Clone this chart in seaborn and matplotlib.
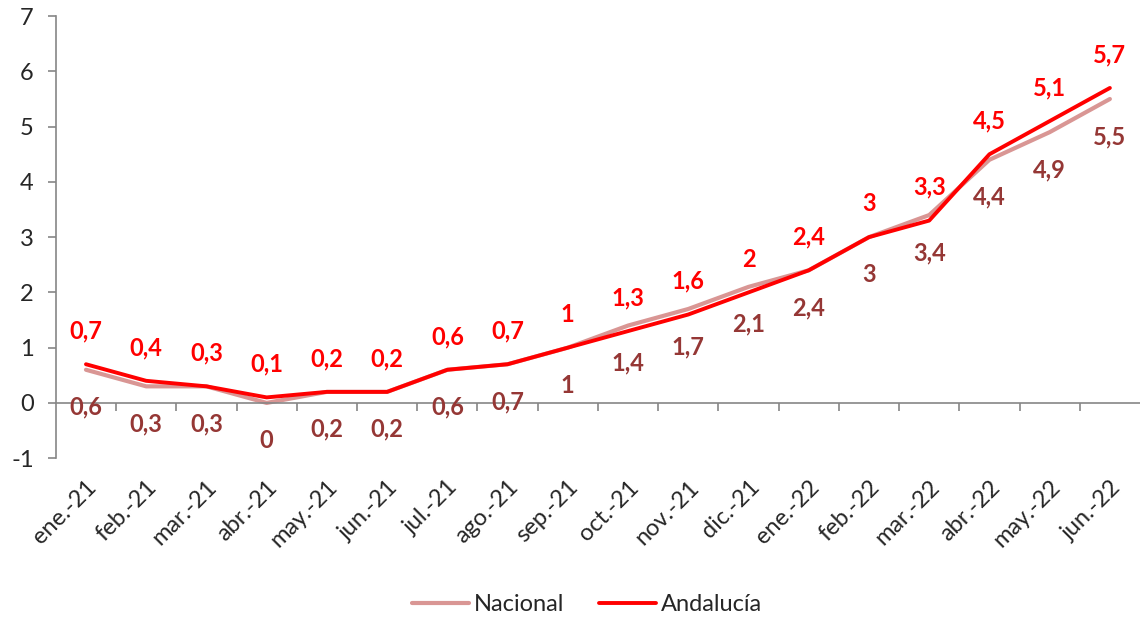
import matplotlib
matplotlib.use("Agg")
import matplotlib.pyplot as plt
import seaborn as sns
import pandas as pd
import numpy as np

months = ["ene.-21", "feb.-21", "mar.-21", "abr.-21", "may.-21", "jun.-21",
          "jul.-21", "ago.-21", "sep.-21", "oct.-21", "nov.-21", "dic.-21",
          "ene.-22", "feb.-22", "mar.-22", "abr.-22", "may.-22", "jun.-22"]
nacional = [0.6, 0.3, 0.3, 0.0, 0.2, 0.2, 0.6, 0.7, 1.0, 1.4, 1.7, 2.1,
            2.4, 3.0, 3.4, 4.4, 4.9, 5.5]
andalucia = [0.7, 0.4, 0.3, 0.1, 0.2, 0.2, 0.6, 0.7, 1.0, 1.3, 1.6, 2.0,
             2.4, 3.0, 3.3, 4.5, 5.1, 5.7]
series_names = ["Nacional", "Andalucía"]
y_ticks = [-1, 0, 1, 2, 3, 4, 5, 6, 7]

sns.set_theme(style="white")
plt.rcParams["font.family"] = ["Lato", "DejaVu Sans"]

idx = np.arange(len(months))
df = pd.DataFrame({
    "x": np.concatenate([idx, idx]),
    "valor": nacional + andalucia,
    "serie": [series_names[0]] * len(months) + [series_names[1]] * len(months),
})

fig = plt.figure(figsize=(11.4, 6.2), dpi=100)
ax = fig.add_axes([0.049, 0.261, 0.951, 0.713])

palette = {"Nacional": "#D99694", "Andalucía": "#FF0000"}
sns.lineplot(data=df[df.serie == "Nacional"], x="x", y="valor", color=palette["Nacional"],
             linewidth=3.0, ax=ax, label="Nacional")
sns.lineplot(data=df[df.serie == "Andalucía"], x="x", y="valor", color=palette["Andalucía"],
             linewidth=2.8, ax=ax, label="Andalucía")

def fmt(v):
    s = f"{v:g}"
    return s.replace(".", ",")

for i, v in enumerate(andalucia):
    ax.annotate(fmt(v), (i, v), xytext=(0, 24), textcoords="offset points",
                ha="center", va="center", color="#FF0000", fontsize=17, fontweight="bold")
for i, v in enumerate(nacional):
    ax.annotate(fmt(v), (i, v), xytext=(0, -27), textcoords="offset points",
                ha="center", va="center", color="#953735", fontsize=17, fontweight="bold")

ax.set_xlim(-0.5, len(months) - 0.5)
ax.set_ylim(-1, 7)
ax.set_yticks(y_ticks)
ax.set_yticklabels([str(t) for t in y_ticks])
ax.set_xlabel("")
ax.set_ylabel("")

for s in ["top", "right"]:
    ax.spines[s].set_visible(False)
ax.spines["bottom"].set_position(("data", 0))
ax.spines["bottom"].set_color("#868686")
ax.spines["left"].set_color("#868686")
ax.spines["bottom"].set_linewidth(1.2)
ax.spines["left"].set_linewidth(1.2)

ax.set_xticks(idx)
ax.set_xticks(np.arange(0.5, len(months) - 0.5, 1.0), minor=True)
ax.set_xticklabels(months, rotation=45, ha="right", rotation_mode="anchor")
ax.tick_params(axis="x", which="major", length=0, pad=53, labelsize=17, labelcolor="#262626")
ax.tick_params(axis="x", which="minor", length=6, width=1.2, color="#868686", direction="out", bottom=True)
ax.tick_params(axis="y", which="major", length=6, width=1.2, color="#868686", direction="out",
               left=True, labelsize=17, labelcolor="#262626", pad=10)

ax.get_legend().remove()
handles, labels = ax.get_legend_handles_labels()
fig.legend(handles, labels, loc="center", bbox_to_anchor=(0.515, 0.025), ncol=2, frameon=False,
           fontsize=17, handlelength=2.4, columnspacing=1.5, handletextpad=0.2)

fig.savefig("out.png", dpi=100)
